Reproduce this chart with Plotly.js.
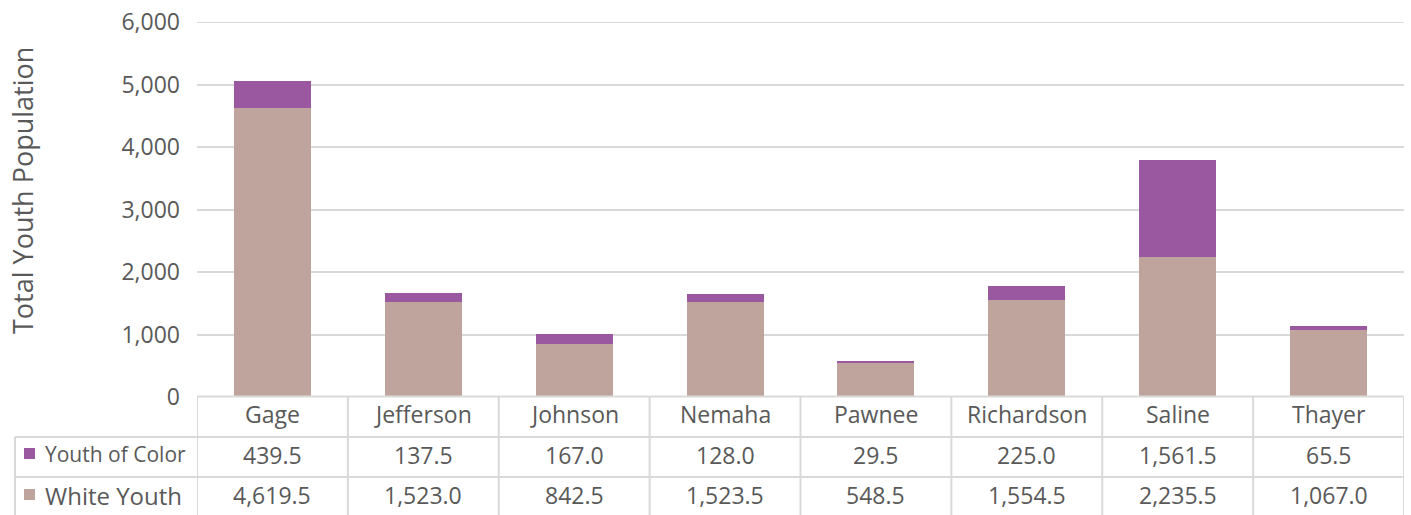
<!DOCTYPE html>
<html>
<head>
<meta charset="utf-8">
<script src="https://cdn.plot.ly/plotly-3.0.1.min.js"></script>
<style>
  html, body { margin: 0; padding: 0; background: #fff; }
  #chart { width: 1411px; height: 515px; }
</style>
</head>
<body>
<div id="chart"></div>
<script>
const counties = ['Gage', 'Jefferson', 'Johnson', 'Nemaha', 'Pawnee', 'Richardson', 'Saline', 'Thayer'];
const youthOfColor = [439.5, 137.5, 167.0, 128.0, 29.5, 225.0, 1561.5, 65.5];
const whiteYouth = [4619.5, 1523.0, 842.5, 1523.5, 548.5, 1554.5, 2235.5, 1067.0];
const seriesNames = ['Youth of Color', 'White Youth'];
const yTicks = [0, 1000, 2000, 3000, 4000, 5000, 6000];

const purple = '#9A58A0';
const tan = '#BFA49D';
const gridCol = '#D9D9D9';
const textCol = '#595959';
const font = 'Open Sans, sans-serif';

// pixel layout of the page
const W = 1411, H = 515;
const L = 197, R = 7, T = 22, B = 118;
const plotW = W - L - R, plotH = H - T - B;
const px = p => (p - L) / plotW;          // pixel x -> paper x
const py = p => (H - B - p) / plotH;      // pixel y -> paper y

const fmt = v => v.toLocaleString('en-US', {minimumFractionDigits: 1, maximumFractionDigits: 1});

let traces = [
  {
    type: 'bar', name: seriesNames[1], x: counties, y: whiteYouth,
    marker: {color: tan}, hoverinfo: 'skip'
  },
  {
    type: 'bar', name: seriesNames[0], x: counties, y: youthOfColor,
    marker: {color: purple}, hoverinfo: 'skip'
  }
];

// data table under the plot
let shapes = [];
let annotations = [];
const line = {color: gridCol, width: 2};

// top gridline (plotly drops the one sitting on the range edge)
const topTick = yTicks[yTicks.length - 1];
shapes.push({type: 'line', xref: 'paper', yref: 'y', x0: 0, x1: 1, y0: topTick, y1: topTick, line: line, layer: 'below'});

const rowTop = 396.5, row1 = 437, row2 = 477, bottom = 520;
shapes.push({type: 'line', xref: 'paper', yref: 'paper', x0: px(L), x1: px(W - R - 0.5), y0: py(rowTop), y1: py(rowTop), line: line});
[row1, row2].forEach(r => {
  shapes.push({type: 'line', xref: 'paper', yref: 'paper', x0: px(15), x1: px(W - R - 0.5), y0: py(r), y1: py(r), line: line});
});
shapes.push({type: 'line', xref: 'paper', yref: 'paper', x0: px(15), x1: px(15), y0: py(row1), y1: py(bottom), line: line});
for (let i = 0; i <= counties.length; i++) {
  shapes.push({type: 'line', xref: 'x', yref: 'paper', x0: i - 0.5, x1: i - 0.5, y0: py(rowTop), y1: py(bottom), line: line});
}

// legend keys
[[454, purple], [495, tan]].forEach(([c, col]) => {
  shapes.push({type: 'rect', xref: 'paper', yref: 'paper', x0: px(24), x1: px(35), y0: py(c - 6), y1: py(c + 5), fillcolor: col, line: {width: 0}});
});

annotations.push({xref: 'paper', yref: 'paper', x: px(43), y: py(454), xanchor: 'left', yanchor: 'middle',
  text: seriesNames[0], showarrow: false, font: {family: font, size: 21, color: textCol}});
annotations.push({xref: 'paper', yref: 'paper', x: px(43), y: py(495), xanchor: 'left', yanchor: 'middle',
  text: seriesNames[1], showarrow: false, font: {family: font, size: 24, color: textCol}});

counties.forEach((c, i) => {
  annotations.push({xref: 'x', yref: 'paper', x: i, y: py(414), yanchor: 'middle', text: c, showarrow: false,
    font: {family: font, size: 23, color: textCol}});
  annotations.push({xref: 'x', yref: 'paper', x: i, y: py(455), yanchor: 'middle', text: fmt(youthOfColor[i]), showarrow: false,
    font: {family: font, size: 23, color: textCol}});
  annotations.push({xref: 'x', yref: 'paper', x: i, y: py(495), yanchor: 'middle', text: fmt(whiteYouth[i]), showarrow: false,
    font: {family: font, size: 23, color: textCol}});
});

// y axis title
annotations.push({xref: 'paper', yref: 'paper', x: px(22), y: py(191), xanchor: 'center', yanchor: 'middle',
  text: 'Total Youth Population', textangle: -90, showarrow: false,
  font: {family: font, size: 27, color: textCol}});

let layout = {
  width: W, height: H,
  margin: {l: L, r: R, t: T, b: B},
  paper_bgcolor: '#fff', plot_bgcolor: '#fff',
  barmode: 'stack',
  bargap: 0.49,
  showlegend: false,
  font: {family: font, color: textCol},
  xaxis: {
    type: 'category', showticklabels: false, showgrid: false, zeroline: false,
    showline: false, ticks: '', range: [-0.5, counties.length - 0.5], fixedrange: true
  },
  yaxis: {
    range: [0, topTick], tickvals: yTicks, tickformat: ',',
    showgrid: true, gridcolor: gridCol, gridwidth: 2,
    zeroline: false, showline: false, ticks: '',
    ticklabelstandoff: 16,
    tickfont: {family: font, size: 23, color: textCol}, fixedrange: true
  },
  shapes: shapes,
  annotations: annotations
};

Plotly.newPlot('chart', traces, layout, {displayModeBar: false, staticPlot: true});
</script>
</body>
</html>
